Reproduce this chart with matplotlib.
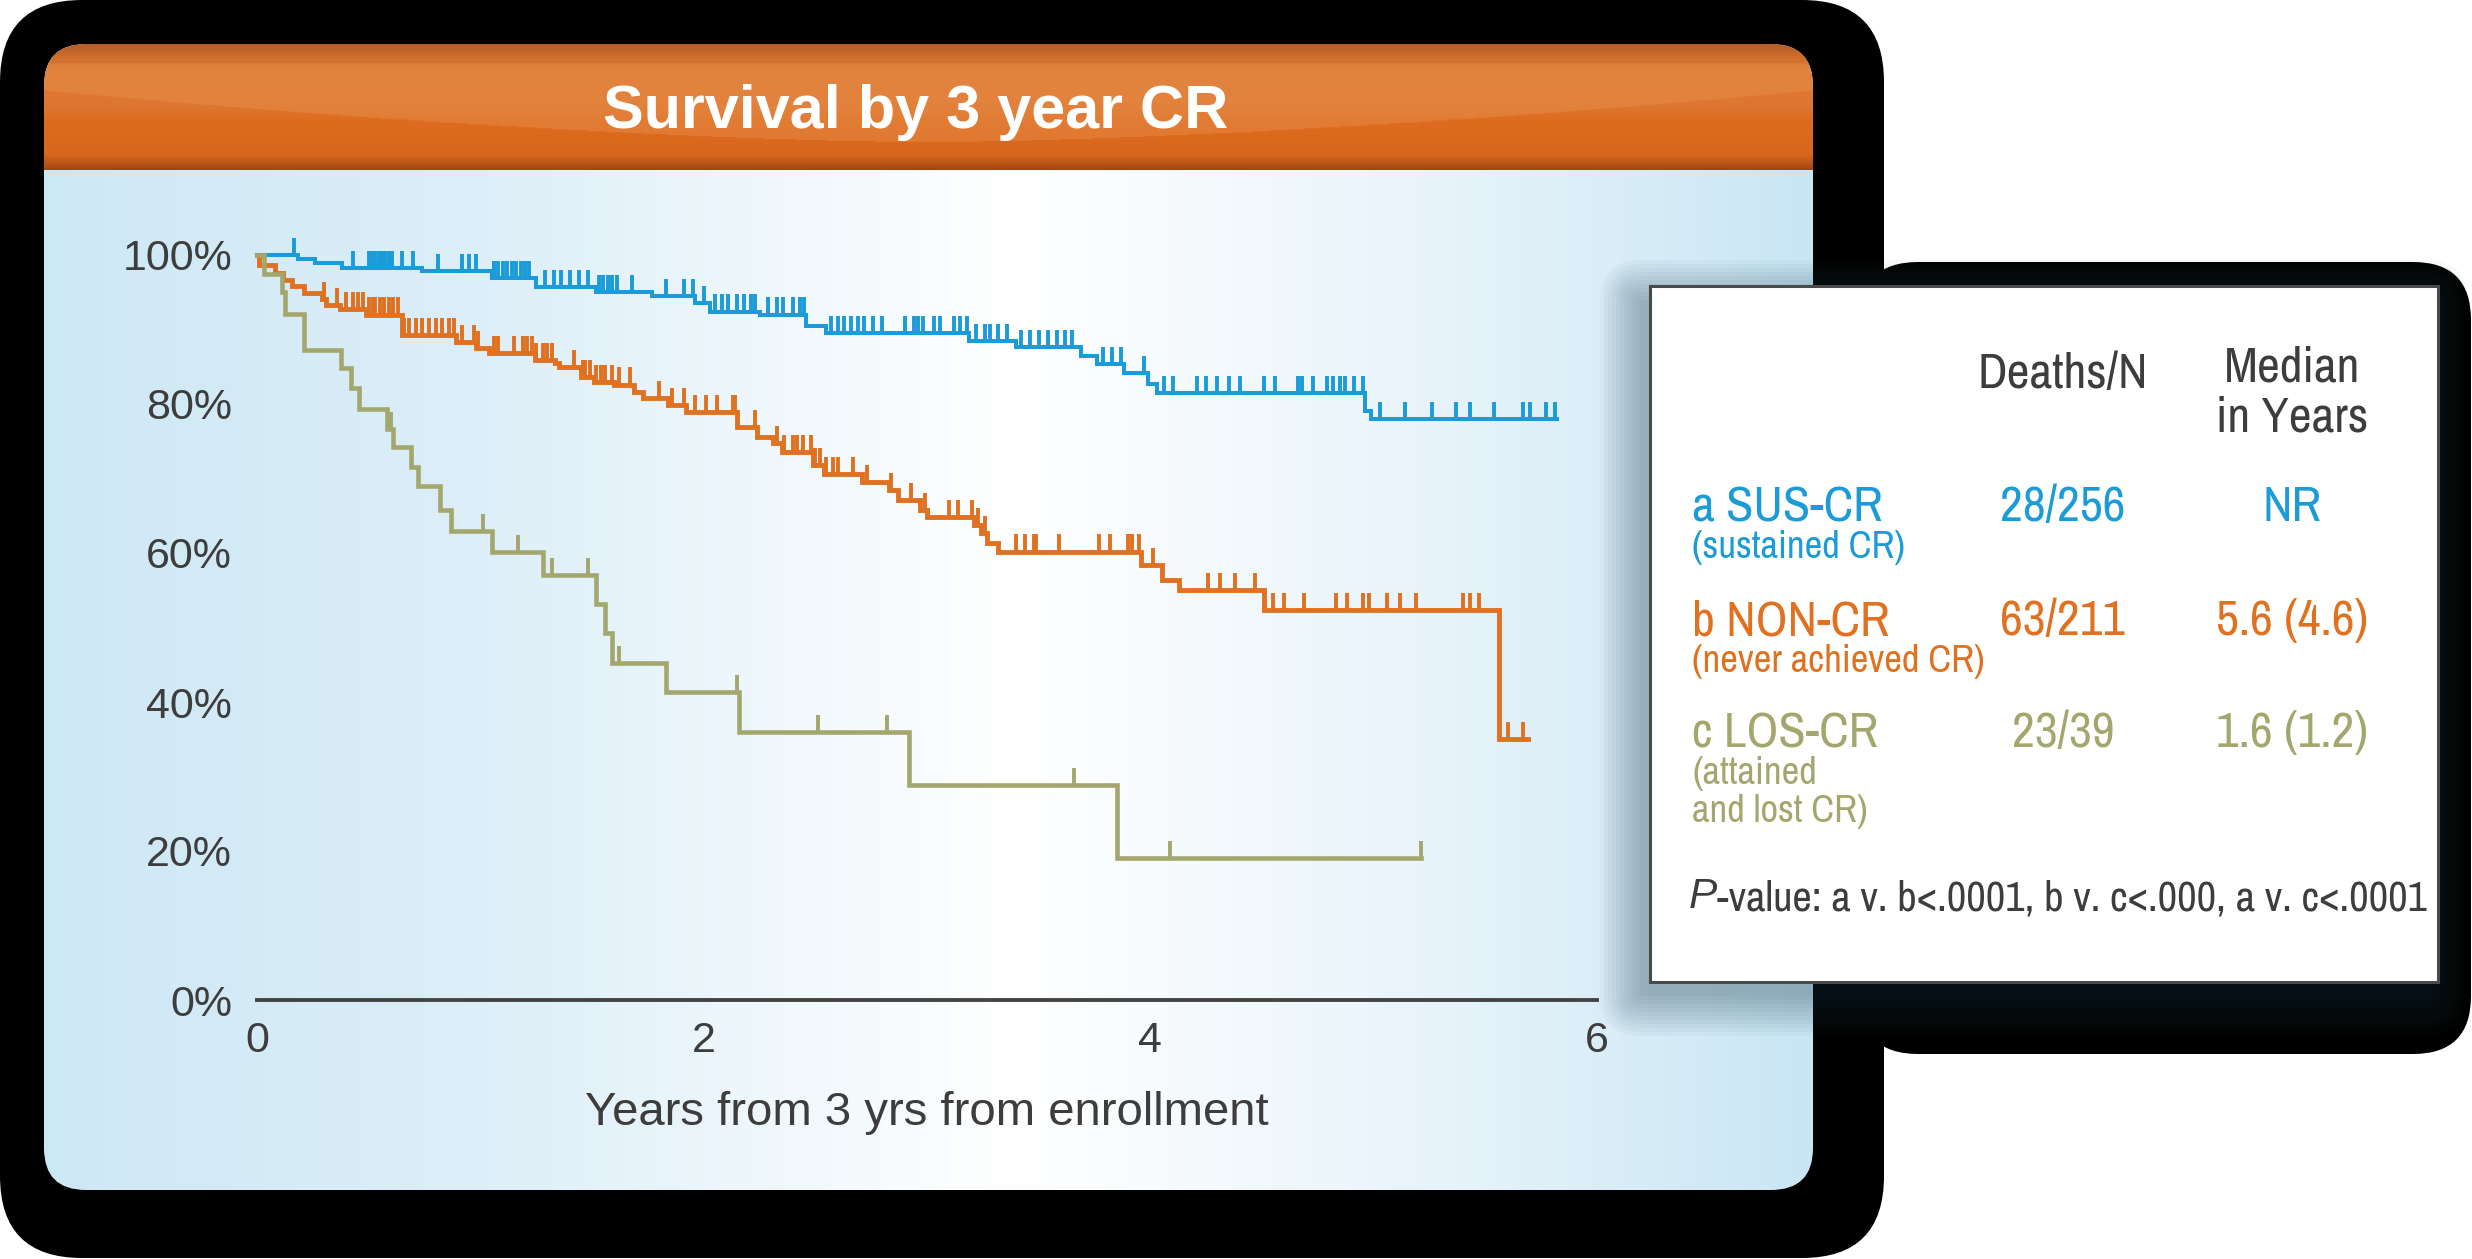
import os
import numpy as np
import matplotlib.pyplot as plt
from matplotlib import font_manager as fm
from matplotlib.patches import FancyBboxPatch
from matplotlib.colors import to_rgb

# ---- data (years, survival %) ----
sus_times = [0.185, 0.26, 0.38, 0.74, 1.05, 1.25, 1.52, 1.77, 1.96, 2.03, 2.25, 2.46, 2.55,
             3.19, 3.40, 3.69, 3.76, 3.88, 3.99, 4.03, 4.96, 4.99]
sus_surv = [99.5, 98.9, 98.3, 97.8, 96.9, 95.7, 95.0, 94.5, 93.6, 92.4, 92.0, 90.5, 89.5,
            88.4, 87.6, 86.4, 85.4, 84.2, 82.7, 81.5, 79.0, 78.0]
sus_end = 5.82
sus_cens = [0.166, 0.43, 0.50, 0.515, 0.53, 0.545, 0.56, 0.575, 0.59, 0.605, 0.65, 0.70,
            0.81, 0.92, 0.95, 0.98, 1.06, 1.08, 1.10, 1.12, 1.14, 1.16, 1.18, 1.20, 1.22,
            1.29, 1.33, 1.36, 1.40, 1.44, 1.48, 1.53, 1.55, 1.57, 1.59, 1.61, 1.68, 1.83,
            1.91, 1.95, 2.00, 2.05, 2.08, 2.11, 2.15, 2.18, 2.21, 2.23, 2.29, 2.33, 2.355,
            2.40, 2.43, 2.45, 2.57, 2.60, 2.63, 2.66, 2.69, 2.72, 2.76, 2.80, 2.90, 2.94,
            2.96, 2.98, 3.03, 3.06, 3.12, 3.15, 3.18, 3.22, 3.26, 3.28, 3.32, 3.36, 3.42,
            3.46, 3.50, 3.54, 3.58, 3.62, 3.65, 3.79, 3.83, 3.87, 3.97, 4.06, 4.10, 4.21,
            4.25, 4.30, 4.35, 4.40, 4.51, 4.56, 4.66, 4.68, 4.73, 4.79, 4.82, 4.85, 4.87,
            4.91, 4.95, 5.03, 5.14, 5.26, 5.37, 5.43, 5.54, 5.67, 5.70, 5.77, 5.81]

non_times = [0.01, 0.08, 0.115, 0.155, 0.21, 0.29, 0.31, 0.37, 0.49, 0.65, 0.89, 0.98, 1.04,
             1.245, 1.335, 1.35, 1.45, 1.51, 1.60, 1.69, 1.73, 1.84, 1.92, 2.15, 2.24, 2.31,
             2.35, 2.49, 2.54, 2.71, 2.83, 2.87, 2.97, 3.00, 3.21, 3.24, 3.27, 3.32, 3.96,
             4.05, 4.13, 4.51, 5.56]
non_surv = [98.7, 97.6, 96.6, 95.8, 94.9, 94.1, 93.3, 92.7, 92.0, 89.3, 88.3, 87.5, 86.8,
            85.9, 85.5, 85.0, 83.6, 83.0, 82.6, 81.6, 80.8, 79.9, 78.9, 76.9, 75.6, 74.7,
            73.6, 71.8, 70.6, 69.5, 68.5, 67.1, 65.8, 64.8, 63.8, 62.7, 61.3, 60.2, 58.4,
            56.4, 55.0, 52.3, 35.0]
non_end = 5.69
non_cens = [0.30, 0.36, 0.40, 0.43, 0.45, 0.475, 0.50, 0.52, 0.53, 0.55, 0.57, 0.59, 0.61,
            0.63, 0.66, 0.68, 0.71, 0.74, 0.77, 0.80, 0.83, 0.86, 0.88, 0.92, 0.97, 0.99,
            1.06, 1.08, 1.15, 1.19, 1.21, 1.23, 1.25, 1.28, 1.30, 1.32, 1.42, 1.46, 1.47,
            1.49, 1.52, 1.54, 1.56, 1.59, 1.62, 1.67, 1.80, 1.86, 1.91, 1.96, 2.01, 2.06,
            2.13, 2.14, 2.23, 2.33, 2.36, 2.40, 2.42, 2.445, 2.48, 2.50, 2.52, 2.55, 2.58,
            2.60, 2.67, 2.73, 2.84, 2.93, 2.99, 3.10, 3.14, 3.20, 3.23, 3.26, 3.40, 3.44,
            3.48, 3.49, 3.59, 3.77, 3.82, 3.90, 3.92, 3.95, 4.01, 4.26, 4.31, 4.38, 4.47,
            4.55, 4.60, 4.69, 4.83, 4.88, 4.95, 4.98, 5.06, 5.12, 5.19, 5.40, 5.43, 5.47,
            5.60, 5.67]

los_times = [0.03, 0.11, 0.125, 0.21, 0.376, 0.42, 0.457, 0.58, 0.61, 0.69, 0.72, 0.82,
             0.87, 1.05, 1.28, 1.52, 1.56, 1.59, 1.83, 2.16, 2.92, 3.85]
los_surv = [97.4, 95.0, 92.1, 87.2, 84.8, 82.1, 79.3, 76.6, 74.2, 71.5, 69.0, 65.8,
            62.9, 60.1, 57.0, 53.2, 49.3, 45.2, 41.3, 36.0, 28.9, 19.1]
los_end = 5.21
los_cens = [0.60, 1.01, 1.17, 1.32, 1.48, 1.62, 2.15, 2.51, 2.82, 3.66, 4.09, 5.21]

# table contents
groups = ['a SUS-CR', 'b NON-CR', 'c LOS-CR']
group_notes = [['(sustained CR)'], ['(never achieved CR)'], ['(attained', 'and lost CR)']]
deaths_n = ['28/256', '63/211', '23/39']
medians = ['NR', '5.6 (4.6)', '1.6 (1.2)']
p_text = '-value: a v. b<.0001, b v. c<.000, a v. c<.0001'

BLUE = '#1b9bd8'
ORANGE = '#e07121'
OLIVE = '#a4a76d'
DARK = '#3d3d3d'
colors = [BLUE, ORANGE, OLIVE]

W, H = 2472, 1259
plt.rcParams['font.family'] = ['Liberation Sans', 'DejaVu Sans']

BAD = ('bold', 'italic', 'oblique', 'light', 'thin', 'medium', 'black', 'heavy', 'demi')


def find_narrow():
    # the table uses a condensed face; take the best one that is installed
    best, best_rank = None, 99
    for f in fm.fontManager.ttflist:
        b = os.path.basename(f.fname).lower()
        if any(w in b for w in BAD):
            continue
        if 'narrow' in b:
            r = 0
        elif 'condensed' in b and not any(w in b for w in ('extra', 'ultra', 'semi')):
            r = 1
        elif 'semicondensed' in b or 'semi-condensed' in b:
            r = 2
        else:
            continue
        if r < best_rank:
            best, best_rank = f, r
    if best is None:
        return fm.FontProperties(family='Liberation Sans'), \
            fm.FontProperties(family='Liberation Sans', style='italic')
    stem = os.path.splitext(os.path.basename(best.fname))[0].lower().replace('-regular', '')
    stem = stem.replace('regular', '')
    ital = None
    for f in fm.fontManager.ttflist:
        b = os.path.basename(f.fname).lower()
        if b.startswith(stem) and ('italic' in b or 'oblique' in b) and \
                not any(w in b for w in ('bold', 'light', 'thin', 'medium', 'black')):
            ital = f
            break
    fp_reg = fm.FontProperties(fname=best.fname)
    fp_it = fm.FontProperties(fname=ital.fname) if ital else \
        fm.FontProperties(family='Liberation Sans', style='italic')
    return fp_reg, fp_it


fp_reg, fp_it = find_narrow()

fig = plt.figure(figsize=(W / 100, H / 100), dpi=100)
fig.patch.set_facecolor('white')

# ---- background drawing in pixel coordinates ----
bg = fig.add_axes([0, 0, 1, 1])
bg.set_xlim(0, W)
bg.set_ylim(H, 0)
bg.axis('off')

bg.add_patch(FancyBboxPatch((0, 0), 1884, 1258, boxstyle='round,pad=0,rounding_size=82',
                            fc='black', ec='none'))
bg.add_patch(FancyBboxPatch((1860, 262), 611, 792, boxstyle='round,pad=0,rounding_size=58',
                            fc='black', ec='none'))

panel = FancyBboxPatch((44, 44), 1769, 1146, boxstyle='round,pad=0,rounding_size=42',
                       fc='none', ec='none')
bg.add_patch(panel)


def ramp(stops, n):
    pos = [s[0] for s in stops]
    cols = np.array([to_rgb(s[1]) for s in stops])
    x = np.linspace(0, 1, n)
    return np.stack([np.interp(x, pos, cols[:, k]) for k in range(3)], axis=-1)


# light blue horizontal gradient of the panel
grad = ramp([(0, '#cde8f5'), (0.25, '#ddeff8'), (0.55, '#ffffff'),
             (0.8, '#e6f3fa'), (1.0, '#c9e6f4')], 600)
im = bg.imshow(grad[None, :, :], extent=(44, 1813, 1190, 44), aspect='auto',
               interpolation='bilinear', zorder=1)
im.set_clip_path(panel)

# orange glossy header
nh, nw = 130, 400
base = ramp([(0, '#b35d27'), (0.1, '#cf6e2c'), (0.22, '#dc7a34'), (0.5, '#de7630'),
             (0.6, '#dd6c20'), (0.88, '#d8661c'), (0.95, '#b8561a'), (1.0, '#a1460e')], nh)
head = np.repeat(base[:, None, :], nw, axis=1)
yy, xx = np.mgrid[0:1:nh * 1j, 0:1:nw * 1j]
edge = 0.37 + 0.41 * (1 - np.abs(2 * xx - 1) ** 1.6)
gloss = (yy < edge) & (yy > 0.15)
light = np.array(to_rgb('#e8904c'))
head[gloss] = head[gloss] * 0.55 + light * 0.45
im2 = bg.imshow(head, extent=(44, 1813, 170, 44), aspect='auto',
                interpolation='bilinear', zorder=2)
im2.set_clip_path(panel)
bg.set_xlim(0, W)
bg.set_ylim(H, 0)

bg.text(916, 112, 'Survival by 3 year CR', color='white', fontsize=44, fontweight='bold',
        ha='center', va='center', zorder=3)

# table box with soft shadow
for d in range(0, 44, 4):
    bg.add_patch(FancyBboxPatch((1650 - 10 - d, 286 + 14 - d), 788 + 2 * d, 696 + 2 * d,
                                boxstyle='round,pad=0,rounding_size=%d' % (d + 2),
                                fc='#20404f', ec='none', alpha=0.035, zorder=3))
bg.add_patch(FancyBboxPatch((1650, 286), 788, 696, boxstyle='square,pad=0',
                            fc='white', ec='#4a4a4a', lw=2.2, zorder=4))

# fit the table font sizes to the widths seen in the chart
rend = fig.canvas.get_renderer()


def fit(s, width, fp=fp_reg, size=30):
    probe = bg.text(0, 0, s, fontproperties=fp, fontsize=size)
    w = probe.get_window_extent(rend).width
    probe.remove()
    return size * width / w


big = fit('Deaths/N', 159) * 1.07
small = fit('(never achieved CR)', 281) * 1.04
pv = fit('P' + p_text, 730)


def ttext(x, y, s, color, size, ha, fp=fp_reg):
    return bg.text(x, y, s, color=color, fontproperties=fp, fontsize=size,
                   ha=ha, va='baseline', zorder=5)


col_deaths, col_median, col_left = 2063, 2292, 1692
ttext(col_deaths, 388, 'Deaths/N', DARK, big, 'center')
ttext(col_median, 381, 'Median', DARK, big, 'center')
ttext(col_median, 431, 'in Years', DARK, big, 'center')

row_base = [521, 635, 747]
for i in range(3):
    c = colors[i]
    yb = row_base[i]
    ttext(col_left, yb, groups[i], c, big, 'left')
    ttext(col_deaths, yb, deaths_n[i], c, big, 'center')
    ttext(col_median, yb, medians[i], c, big, 'center')
    for j, line in enumerate(group_notes[i]):
        ttext(col_left, yb + 37 + 38 * j, line, c, small, 'left')

p_lab = ttext(1689, 908, 'P', DARK, pv, 'left', fp=fp_it)
bg.annotate(p_text, xy=(1, 0), xycoords=p_lab, color=DARK, fontproperties=fp_reg,
            fontsize=pv, ha='left', va='bottom', zorder=5)

# ---- Kaplan-Meier axes ----
x0, x6, y0, y100 = 257, 1597, 1000, 255
top = 105
ax = fig.add_axes([x0 / W, (H - y0) / H, (x6 - x0) / W, (y0 - y100) * top / 100 / H])
ax.patch.set_alpha(0)
ax.set_xlim(0, 6)
ax.set_ylim(0, top)

curves = [(sus_times, sus_surv, sus_end, sus_cens, 2.9),
          (non_times, non_surv, non_end, non_cens, 3.5),
          (los_times, los_surv, los_end, los_cens, 3.3)]
for (t, s, end, cens, lw), c in zip(curves, colors):
    tt = np.r_[0, t, end]
    ss = np.r_[100, s, s[-1]]
    ax.step(tt, ss, where='post', color=c, lw=lw, solid_joinstyle='miter', clip_on=False)
    idx = np.searchsorted(tt, cens, side='right') - 1
    cs = ss[idx]
    ax.vlines(cens, cs, cs + 2.3, color=c, lw=2.8, clip_on=False)

for side in ['top', 'right', 'left']:
    ax.spines[side].set_visible(False)
ax.spines['bottom'].set_linewidth(2.8)
ax.spines['bottom'].set_color('#444444')
ax.set_xticks([0, 2, 4, 6])
ax.set_yticks([0, 20, 40, 60, 80, 100])
ax.set_yticklabels(['0%', '20%', '40%', '60%', '80%', '100%'])
ax.tick_params(length=0, labelsize=31, labelcolor=DARK)
ax.tick_params(axis='x', pad=15)
ax.tick_params(axis='y', pad=18)
ax.set_xlabel('Years from 3 yrs from enrollment', fontsize=34, color=DARK, labelpad=22)

fig.savefig('out.png', dpi=100)
